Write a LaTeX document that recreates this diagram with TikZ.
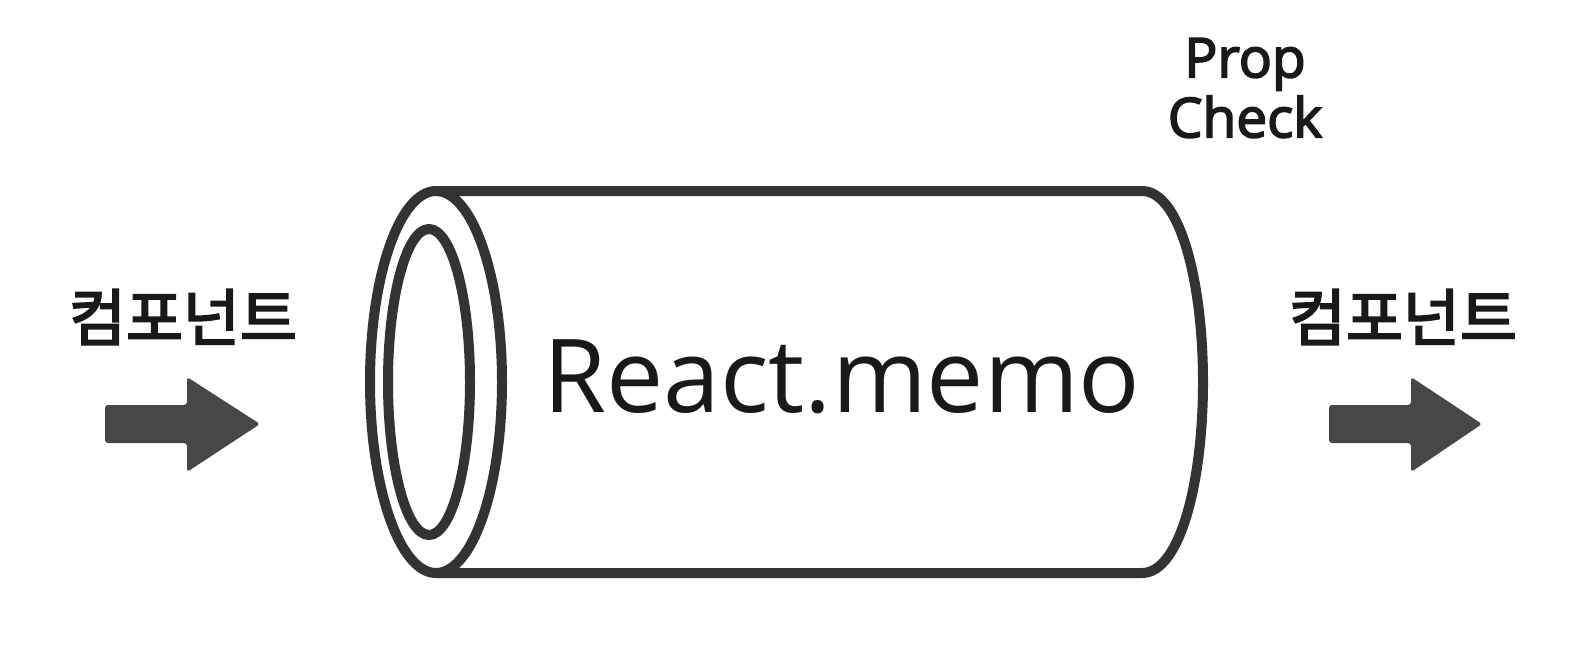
\documentclass[tikz,border=0pt]{standalone}
\usepackage{fontspec}
\setmainfont{Open Sans}
\newfontfamily\krfont[FakeBold=3]{Noto Sans CJK KR}
\newfontfamily\propfont[FakeBold=3]{Open Sans}
\begin{document}
\begin{tikzpicture}[x=1pt,y=-1pt,
  edge/.style={draw=black!80,line width=10pt},
  fatarrow/.style={fill=black!72,rounded corners=3pt},
  kr/.style={font=\krfont\fontsize{62}{62}\selectfont,text=black!90,inner sep=0pt},
  lbl/.style={font=\propfont\fontsize{55}{60}\selectfont,text=black!90,inner sep=0pt,align=center}]
\useasboundingbox[fill=white] (0,0) rectangle (1576,662);
% cylinder
\coordinate (tl) at (436,191);
\coordinate (tr) at (1142,191);
\coordinate (mr) at (1203,382);
\coordinate (br) at (1142,573);
\coordinate (bl) at (436,573);
\fill[white] (tl) -- (tr) .. controls (1180,191) and (1203,282) .. (mr) .. controls (1203,482) and (1180,573) .. (br) -- (bl) -- cycle;
\draw[edge] (tl) -- (tr) .. controls (1180,191) and (1203,282) .. (mr) .. controls (1203,482) and (1180,573) .. (br) -- (bl);
\draw[edge] (436,382) ellipse[x radius=66,y radius=191];
\draw[edge] (429,382) ellipse[x radius=41,y radius=153];
\node[font=\fontsize{102}{102}\selectfont,text=black!90,inner sep=0pt,anchor=base] (memo) at (842,412) {React.memo};
% labels
\node[kr] (inL) at (183,317) {컴포넌트};
\node[kr] (outR) at (1403,317) {컴포넌트};
\node[lbl] (prop) at (1245,88) {Prop\\Check};
% arrows
\fill[fatarrow] (105,405) -- (187,405) -- (187,377) -- (260,424) -- (187,472) -- (187,443) -- (105,443) -- cycle;
\fill[fatarrow] (1329,405) -- (1411,405) -- (1411,377) -- (1482,424) -- (1411,472) -- (1411,443) -- (1329,443) -- cycle;
\end{tikzpicture}
\end{document}
